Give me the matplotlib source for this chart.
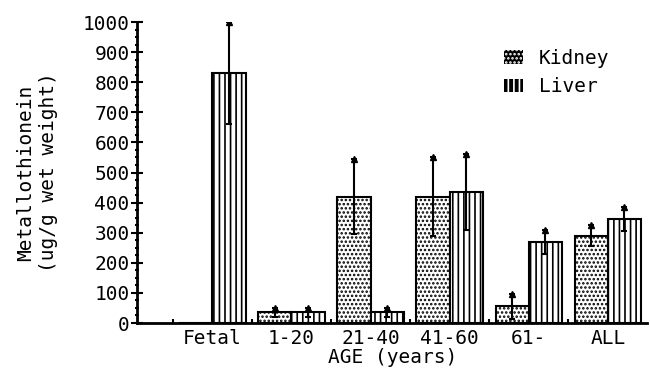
import matplotlib.pyplot as plt
from matplotlib.patches import Patch
import numpy as np

groups = ['Fetal', '1-20', '21-40', '41-60', '61-', 'ALL']
kidney = [0, 35, 420, 420, 55, 290]
kidney_err = [0, 15, 125, 130, 40, 35]
liver = [830, 35, 35, 435, 270, 345]
liver_err = [170, 15, 15, 125, 40, 40]

plt.rcParams['font.family'] = 'DejaVu Sans Mono'
plt.rcParams['hatch.linewidth'] = 1.2

fig = plt.figure(figsize=(6.5, 3.73), dpi=100)
ax = fig.add_axes([0.211, 0.134, 0.785, 0.807])

x = np.arange(len(groups))
w = 0.42
ax.bar(x - w / 2, kidney, w, color='white', edgecolor='black', hatch='....', linewidth=1.5)
ax.bar(x + w / 2, liver, w, color='white', edgecolor='black', hatch='|||', linewidth=1.5)

for xs, v, e in [(x - w / 2, kidney, kidney_err), (x + w / 2, liver, liver_err)]:
    for xi, vi, ei in zip(xs, v, e):
        if vi > 0:
            ax.errorbar(xi, vi, yerr=ei, color='black', capsize=2, elinewidth=1.5, capthick=1.5)
            ax.plot(xi, vi + ei, marker='^', color='black', markersize=5)

ax.set_xlim(-0.95, 5.5)
ax.set_ylim(0, 1000)
ax.set_yticks(np.arange(0, 1001, 100))
ax.set_yticks(np.arange(0, 1001, 25), minor=True)
ax.set_xticks(x)
ax.set_xticklabels(groups, fontsize=14)
ax.set_xticks(np.arange(-0.5, 5.5, 1), minor=True)
ax.tick_params(axis='y', direction='inout', length=9, width=1.5, labelsize=14, pad=1)
ax.tick_params(axis='y', which='minor', direction='inout', length=3, width=1.5)
ax.tick_params(axis='x', which='major', length=0, pad=4)
ax.tick_params(axis='x', which='minor', direction='in', length=3, width=1.5)

for s in ['top', 'right']:
    ax.spines[s].set_visible(False)
for s in ['left', 'bottom']:
    ax.spines[s].set_linewidth(2)

ax.set_ylabel('Metallothionein\n(ug/g wet weight)', fontsize=14, labelpad=18)
ax.set_xlabel('AGE (years)', fontsize=14, labelpad=0)

handles = [Patch(facecolor='black', edgecolor='white', hatch='....', linewidth=0),
           Patch(facecolor='black', edgecolor='white', hatch='|||', linewidth=0)]
ax.legend(handles, ['Kidney', 'Liver'], loc='upper right', bbox_to_anchor=(0.96, 0.97),
          frameon=False, fontsize=14, handlelength=1.0, handleheight=0.7, labelspacing=0.5)

plt.savefig('out.png', dpi=100)
